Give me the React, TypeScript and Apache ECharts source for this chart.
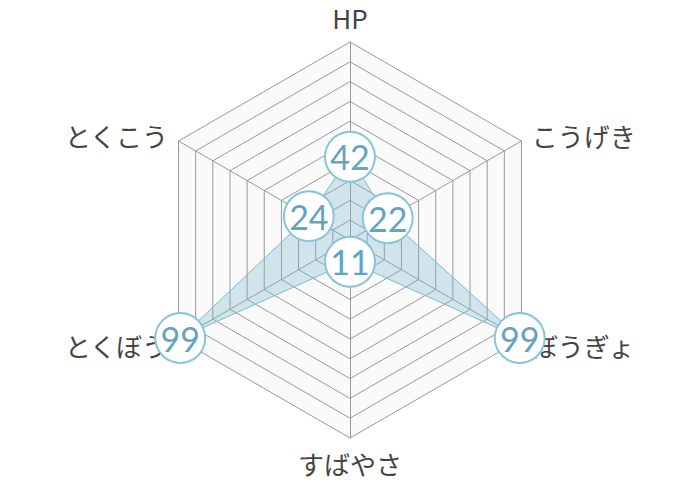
import { useEffect, useRef } from "react";
import * as echarts from "echarts";

// listed in ECharts' drawing order (counter-clockwise from the top)
const statNames = ["HP", "とくこう", "とくぼう", "すばやさ", "ぼうぎょ", "こうげき"];
const statValues = [42, 24, 99, 11, 99, 22];
const statMax = 100;

const FONT = "'Noto Sans CJK JP', 'Noto Sans', sans-serif";
const NUM_FONT = "Lato, 'Noto Sans', sans-serif";

const App = () => {
  const chartRef = useRef<HTMLDivElement>(null);

  useEffect(() => {
    if (!chartRef.current) {
      return;
    }
    const chart = echarts.init(chartRef.current, null, { renderer: "svg" });

    const option: echarts.EChartsOption = {
      animation: false,
      radar: {
        center: ["50%", "50%"],
        radius: 198,
        startAngle: 90,
        splitNumber: 10,
        shape: "polygon",
        indicator: statNames.map((name) => ({ name, max: statMax, min: 0 })),
        axisName: {
          color: "#444444",
          fontFamily: FONT,
          fontSize: 26,
        },
        nameGap: 12,
        axisLine: { lineStyle: { color: "#999999", width: 1 } },
        splitLine: { lineStyle: { color: "#999999", width: 1 } },
        splitArea: {
          show: true,
          areaStyle: { color: ["#fafafa", "#fafafa"] },
        },
      },
      series: [
        {
          type: "radar",
          symbol: "circle",
          symbolSize: 50,
          lineStyle: { color: "#7fbcd4", width: 1 },
          areaStyle: { color: "rgba(120, 180, 205, 0.45)" },
          itemStyle: {
            color: "#ffffff",
            borderColor: "#88c4dc",
            borderWidth: 2,
          },
          label: {
            show: true,
            position: "inside",
            color: "#62a4c2",
            fontFamily: NUM_FONT,
            fontSize: 34,
          },
          data: [{ value: statValues, name: "ステータス" }],
        },
      ],
    };

    chart.setOption(option);

    return () => {
      chart.dispose();
    };
  }, []);

  return (
    <div
      ref={chartRef}
      style={{ position: "absolute", left: 0, top: 0, width: 700, height: 480, background: "#ffffff" }}
    />
  );
};

export default App;
